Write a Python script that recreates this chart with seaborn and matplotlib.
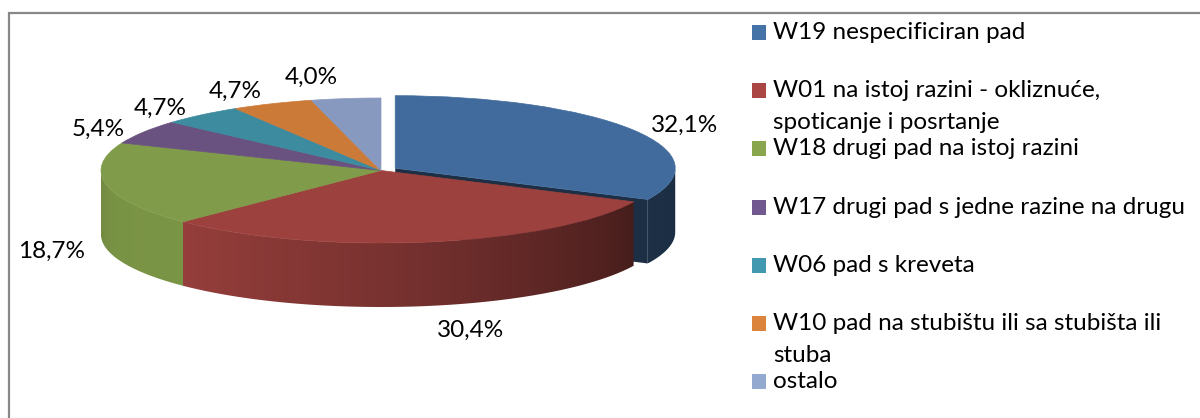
import numpy as np
import matplotlib
matplotlib.use("Agg")
import matplotlib.pyplot as plt
from matplotlib.patches import Polygon, Rectangle
from matplotlib.colors import to_rgb
import seaborn as sns

# data
categories = [
    "W19 nespecificiran pad",
    "W01 na istoj razini - okliznuće,\nspoticanje i posrtanje",
    "W18 drugi pad na istoj razini",
    "W17 drugi pad s jedne razine na drugu",
    "W06 pad s kreveta",
    "W10 pad na stubištu ili sa stubišta ili\nstuba",
    "ostalo",
]
shares = [32.1, 30.4, 18.7, 5.4, 4.7, 4.7, 4.0]
explode = [0.06, 0, 0, 0, 0, 0, 0]

legend_colors = sns.color_palette(["#4572A7", "#AA4643", "#89A54E", "#71588F",
                                   "#4198AF", "#DB843D", "#93A9CF"])
top_colors = sns.color_palette(["#416B9C", "#9C413E", "#809B49", "#69527F",
                                "#3C8B9F", "#CC7A37", "#8899C0"])

# where the value labels sit, as multiples of the rim radius (x, y)
label_radius = [(1.22, 1.12), (1.90, 1.34), (1.20, 1.16), (1.19, 1.08),
                (1.23, 1.12), (1.34, 1.18), (2.00, 1.29)]

# layout in pixels
W, H = 1200, 418
CX, CY, RX, RY, DEPTH = 381, 170.5, 280, 72.5, 64
d = DEPTH / RY

sns.set_style("white")
plt.rcParams["font.family"] = ["Lato", "DejaVu Sans"]

fig = plt.figure(figsize=(W / 100, H / 100), dpi=100)
ax = fig.add_axes([0, 0, 1, 1])

wedges, _ = ax.pie(shares, colors=top_colors, startangle=90, counterclock=False,
                   explode=explode, radius=1)
ax.set_aspect("auto")
ax.set_xlim(-CX / RX, (W - CX) / RX)
ax.set_ylim((CY - H) / RY, CY / RY)
ax.axis("off")

# side shading by angle around the rim (lit from front-left)
shade_t = [-180, -160, -135, -90, -25, 0]
shade_f = [0.88, 0.95, 0.96, 0.78, 0.45, 0.42]


def wall(pts, base, cx0, z):
    patch = Polygon(pts, closed=True, fc="none", ec="none")
    ax.add_patch(patch)
    x0, x1 = pts[:, 0].min(), pts[:, 0].max()
    y0, y1 = pts[:, 1].min(), pts[:, 1].max()
    xs = np.linspace(x0, x1, 300)
    th = -np.degrees(np.arccos(np.clip(xs - cx0, -1, 1)))
    f = np.interp(th, shade_t, shade_f)
    img = (np.array(to_rgb(base))[None, :] * f[:, None])[None, :, :]
    im = ax.imshow(np.clip(img, 0, 1), extent=(x0, x1, y0, y1), aspect="auto",
                   origin="lower", interpolation="bilinear", zorder=z)
    im.set_clip_path(patch)


for i, w in enumerate(wedges):
    ccx, ccy = w.center
    t1, t2 = w.theta1, w.theta2
    z = 1 if explode[i] else 3
    w.set_zorder(z + 1)
    w.set_edgecolor(w.get_facecolor())
    w.set_linewidth(0.5)
    lo, hi = max(t1, -180), min(t2, 0)
    if lo < hi:
        t = np.radians(np.linspace(lo, hi, 150))
        top = np.column_stack([ccx + np.cos(t), ccy + np.sin(t)])
        bot = top[::-1] - [0, d]
        wall(np.vstack([top, bot]), top_colors[i], ccx, z)
    if explode[i]:
        # cut faces of the pulled-out slice
        for ang, nrm in ((t1, t1 - 90), (t2, t2 + 90)):
            if np.sin(np.radians(nrm)) < -1e-6:
                c = np.array([ccx, ccy])
                rim = c + [np.cos(np.radians(ang)), np.sin(np.radians(ang))]
                pts = np.array([c, rim, rim - [0, d], c - [0, d]])
                ax.add_patch(Polygon(pts, closed=True, ec="none", zorder=z,
                                     fc=np.array(to_rgb(top_colors[i])) * 0.44))

for i, w in enumerate(wedges):
    ccx, ccy = w.center
    mid = np.radians((w.theta1 + w.theta2) / 2)
    kx, ky = label_radius[i]
    x = ccx + kx * np.cos(mid)
    y = ccy + ky * np.sin(mid) - (d if np.sin(mid) < 0 else 0)
    ax.text(x, y, f"{shares[i]:.1f}%".replace(".", ","), ha="center", va="center",
            fontsize=17.5, color="black", zorder=10)

# legend and frame in pixel coordinates
lax = fig.add_axes([0, 0, 1, 1])
lax.set_xlim(0, W)
lax.set_ylim(H, 0)
lax.axis("off")
lax.plot([9, 9, W], [H, 12.5, 12.5], color="#888888", lw=1.6, solid_joinstyle="miter")

for i, (lab, col) in enumerate(zip(categories, legend_colors)):
    y = 32.5 + 58.2 * i
    lax.add_patch(Rectangle((752, y - 7.5), 14, 15, fc=col, ec="none"))
    for j, line in enumerate(lab.split("\n")):
        lax.text(773, y + 32 * j, line, ha="left", va="center", fontsize=17.5, color="black")

fig.savefig("out.png", dpi=100)
